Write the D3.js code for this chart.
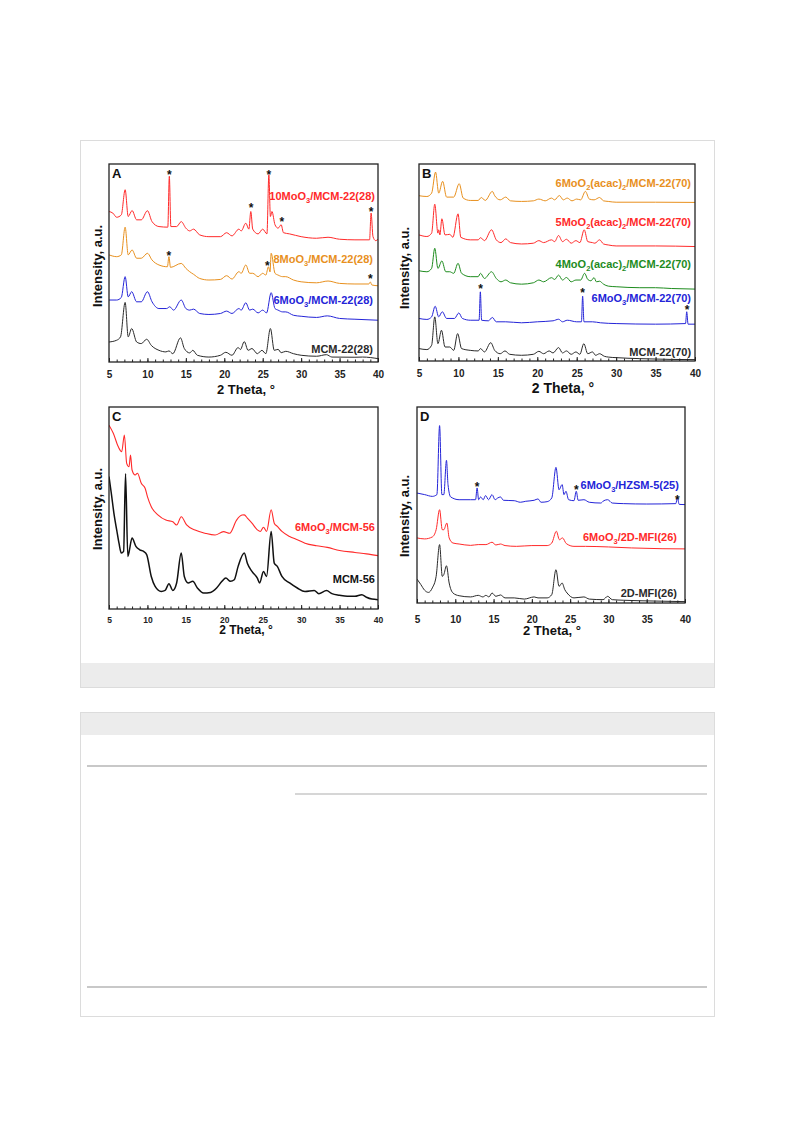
<!DOCTYPE html>
<html lang="en">
<head>
<meta charset="UTF-8">
<title>XRD patterns</title>
<script src="https://d3js.org/d3.v7.min.js"></script>
<style>
  body { margin: 0; background: #fff; }
  svg text { font-family: "Liberation Sans", Arial, sans-serif; font-weight: bold; }
</style>
</head>
<body>
<svg id="page" width="793" height="1123"></svg>
<script>
// x axis
const xTicks = [5, 10, 15, 20, 25, 30, 35, 40]
const minorTicks = d3.range(5, 41, 1)

// ---- panel A : MCM-22(28) series, [2theta, intensity a.u.]
const mcm22_28 = [[5,10.1],[6,11],[6.5,12.7],[7.1,30.1],[7.5,12.7],[7.95,16.9],[8.6,10.1],[9.2,9.3],[9.9,11.5],[10.5,8.4],[11.5,5.9],[12.4,5.1],[12.8,5.6],[13.3,4.2],[14.3,12.2],[14.8,6.8],[15.5,4.6],[15.9,5.9],[16.5,3.4],[18,2.5],[19.5,3.4],[20.2,4.9],[21,3.4],[21.8,7.3],[22.1,6.3],[22.6,10.3],[23.1,5.9],[23.6,6.8],[24.3,4.2],[24.9,5.9],[25.4,4.2],[26.0,16.9],[26.5,5.9],[27.0,6.4],[27.4,4.7],[28,5.4],[29,4.2],[30,3.4],[32,2.9],[33.3,3.7],[34,2.5],[37,2.4],[38,2.5],[40,1.7]]
const mo6_mcm22_28 = [[5,31.3],[6,31.3],[6.6,32.6],[7.1,43.1],[7.5,32.9],[7.95,35.5],[8.6,30.4],[9.2,30.4],[10.0,35.5],[10.6,30.4],[11.5,27],[12.5,27],[12.9,27.9],[13.4,26.2],[14.4,31.3],[15,27],[15.5,26.2],[16,26.7],[16.8,24.5],[18,24],[19.5,24.5],[20.3,25.7],[21,24.5],[21.9,27],[22.2,26.2],[22.8,29.9],[23.3,26.2],[23.7,26.7],[24.4,24.8],[25.0,26.2],[25.5,24.8],[26.1,35],[26.6,27],[27.0,26.2],[27.6,25.3],[28.0,25.3],[29,23.6],[30,23.1],[32,22.5],[33.4,23.3],[35,22],[37,21.6],[40,21.1]]
const mo8_mcm22_28 = [[5,54.1],[6,53.2],[6.6,54.1],[7.1,68.1],[7.5,54.1],[8.0,56.6],[8.6,52.4],[9.2,52.4],[10.0,54.9],[10.6,51.5],[11.5,49],[12.6,48.1],[12.8,53.2],[13.0,47.8],[14.4,49.8],[15,47.3],[15.5,45.6],[16.0,44.3],[16.8,42.2],[18,41.4],[19.5,41.7],[20.3,43.6],[21,41.9],[21.9,45.6],[22.2,44.8],[22.8,49],[23.3,44.8],[23.7,44.8],[24.4,43.1],[25.0,44.8],[25.4,43.9],[25.75,48.1],[25.95,45.5],[26.1,54.9],[26.6,44.8],[27,43.9],[27.6,43.1],[28,43.1],[29,41.4],[30,40.5],[32,40],[33.5,40.9],[35,39.7],[37,39.4],[38.8,39.4],[39.0,40.4],[39.2,38.9],[40,38.5]]
const mo10_mcm22_28 = [[5,76],[5.5,75.2],[6,73.1],[6.6,74.3],[7.1,87],[7.5,73.5],[8.0,76.5],[8.6,71.8],[9.2,71.8],[10.0,76.4],[10.6,70.9],[11.5,68.4],[12.65,68.1],[12.85,93.8],[13.05,68.4],[13.8,68.4],[14.4,70.9],[15,67.6],[15.5,66.2],[16,67.1],[16.8,64.2],[18,63.3],[19.5,63.3],[20.3,65.3],[21,63.7],[21.9,67.1],[22.2,66.2],[22.8,70.1],[23.2,67.1],[23.45,76],[23.7,67.1],[24.4,64.7],[25,67.1],[25.55,64.7],[25.8,94.6],[26.0,73.5],[26.2,76],[26.6,69.3],[27,67.6],[27.4,69.3],[27.7,65.3],[28.5,64.7],[30,63.3],[32,62.5],[33.5,63],[35,62],[37,61.7],[38.9,61.7],[39.1,75.2],[39.35,63.3],[39.7,61.3],[40,62]]
const starsA = [[12.85,96],[25.8,96],[23.5,79],[27.5,71.8],[39.1,77.3],[12.8,54.6],[25.6,49.8],[39.0,43]]

// ---- panel B : MCM-22(70) series
const mcm22_70 = [[5,6.3],[6,5.8],[6.6,8],[7.0,22.4],[7.4,8.8],[7.85,15.6],[8.3,7.1],[8.9,7.1],[9.4,5.4],[9.9,13.9],[10.4,6.3],[11.5,5.4],[12.5,5.1],[12.8,6.3],[13.3,4.6],[14.1,9.3],[14.6,5.4],[15.3,3.7],[15.9,5.1],[16.5,3.4],[18,2.9],[19.5,3.4],[20.2,4.9],[20.8,3.7],[21.5,5.1],[22.0,4.1],[22.7,6.8],[23.2,4.1],[23.7,5.1],[24.3,3.4],[24.9,4.6],[25.4,3.4],[25.9,8.8],[26.4,3.7],[27.0,4.6],[27.4,2.9],[27.9,3.7],[28.5,2.4],[29,2],[30,1.7],[33,1.2],[37,0.8],[40,0.7]]
const mo6_mcm22_70 = [[5,21.6],[6,21.1],[6.6,22.4],[7.05,27.8],[7.5,22.4],[7.95,25],[8.5,21.6],[9.5,21.6],[10.05,24.4],[10.5,21.6],[11.5,20.7],[12.62,20.7],[12.78,35.1],[12.94,20.7],[13.8,20.4],[14.3,22.1],[14.8,19.9],[16,19.9],[18,19.4],[20,19.9],[22,20.4],[22.7,21.2],[23.2,19.9],[23.8,20.7],[25.0,19.9],[25.6,19.9],[25.75,32.9],[25.92,19.9],[27,19.9],[28,19.4],[30,19],[35,18.7],[38.8,19],[38.95,25],[39.12,18.7],[40,18.7]]
const acac4_mcm22_70 = [[5,45.8],[6,45.3],[6.6,47],[7.0,57.2],[7.4,47],[7.9,50.8],[8.4,45.3],[8.9,45.3],[9.4,44.5],[9.95,49.6],[10.4,44.5],[11.5,42.8],[12.5,42.8],[12.8,44.5],[13.3,41.9],[14.2,45.3],[14.8,41.9],[15.4,40.2],[16.0,41.1],[16.6,39.7],[18,39],[19.5,39.7],[20.2,41.1],[20.8,40.2],[21.8,42.3],[22.2,41.4],[22.7,43.6],[23.2,41.1],[23.7,42.4],[24.3,40.2],[24.9,41.1],[25.5,41.1],[26.0,44.5],[26.4,41.4],[26.8,40.7],[27.2,42.3],[27.5,40.2],[27.9,40.5],[28.4,39],[29,38],[30,37.7],[33,37.2],[35,37.2],[37,36.8],[40,36.5]]
const acac5_mcm22_70 = [[5,64],[6,63.2],[6.6,64.9],[7.0,79.6],[7.4,64.9],[7.5,66.6],[7.65,64],[7.9,72.2],[8.3,64],[8.9,64.3],[9.3,62.8],[9.95,74.7],[10.3,62.8],[11.5,61.5],[12.5,61.5],[12.8,62.6],[13.3,61.1],[14.2,66.6],[14.8,61.5],[15.4,60.1],[16.0,62],[16.6,60.1],[18,59.4],[19.5,59.8],[20.2,61.1],[20.8,60.1],[21.8,61.5],[22.2,60.6],[22.7,63.7],[23.2,60.6],[23.7,61.8],[24.3,59.8],[24.9,61.1],[25.4,60.1],[25.95,66.6],[26.4,60.6],[27.0,60.1],[27.3,59.8],[27.9,61.5],[28.4,59.4],[29,58.9],[30,58.4],[35,58.4],[40,58.1]]
const acac6_mcm22_70 = [[5,83.9],[6,83.5],[6.6,85.2],[7.1,95.9],[7.5,85.2],[8.0,91.2],[8.5,83.2],[9.4,83.2],[10.1,90],[10.6,82.7],[11.5,81.5],[12.5,81.5],[12.9,83],[13.4,81.5],[14.3,86.1],[14.6,83.9],[15.3,81.8],[16.0,83.2],[16.6,81.3],[18,81],[19.5,81.3],[20.2,82.2],[21,81.3],[21.8,82.7],[22.2,81.8],[22.8,84],[23.3,81.8],[23.8,82.7],[24.4,81.3],[25.0,82.2],[25.5,81.8],[26.1,86.1],[26.6,82.2],[27.2,81.8],[27.9,83],[28.4,81.3],[29,81],[30,80.6],[35,80.6],[40,80.5]]
const starsB = [[12.82,37.7],[25.76,35.7],[39.0,27]]

// ---- panel C : MCM-56 series
const mcm56 = [[5,65.6],[5.3,57.3],[5.7,45.8],[6.0,39.2],[6.3,32.6],[6.6,27.7],[6.9,28.5],[7.15,66.9],[7.45,26],[7.6,28],[8.0,35.1],[8.5,31],[9.0,29.3],[9.5,28.5],[9.9,26.9],[10.5,16.1],[11,11.2],[11.8,8.7],[12.3,9.2],[12.8,12.5],[13.3,9.2],[13.8,12.9],[14.4,27.7],[14.8,16.1],[15.3,12.9],[15.9,13.7],[16.5,10.4],[17.3,7.9],[18.2,8.2],[19,10.4],[19.7,13.7],[20.2,15.3],[20.8,13.7],[21.3,14.5],[21.8,21.1],[22.6,27.7],[23.0,22.7],[23.6,18.6],[24.3,15.3],[24.6,12.9],[25.1,18.6],[25.5,16.1],[26.1,38.4],[26.5,22.7],[26.9,21.1],[27.5,16.1],[28.5,12.9],[29.5,10.4],[30.5,8.7],[31.7,9.2],[32.3,7.6],[33.3,9.1],[34,7.6],[35,6.8],[36,6.3],[37,6.3],[37.9,7.1],[38.5,5.8],[39.2,4.9],[40,4.6]]
const mo6_mcm56 = [[5,91],[5.56,87],[6.2,80.4],[6.65,77.9],[7.0,86.1],[7.3,72.1],[7.6,70.4],[7.8,76.2],[8.0,68.8],[8.4,66.3],[8.7,67.2],[9.2,62.2],[9.7,59.8],[10.0,55.6],[10.5,50.6],[11.4,46.5],[12.4,44],[13.3,43.2],[13.8,41.6],[14.4,45.7],[15.1,41.6],[16.2,39.1],[17.5,37.5],[18.8,36.6],[19.9,38.3],[20.7,37.5],[21.6,44],[22.3,46.5],[22.6,46.6],[23.0,45],[23.6,42.5],[24.3,39.2],[24.7,38.4],[25.1,40.5],[25.5,38.4],[26.1,49.1],[26.5,42.5],[26.9,40.9],[27.5,38.4],[28.5,35.9],[29.5,34.3],[30.5,32.6],[32,31.3],[33.4,30.5],[35,29],[37,28],[38.5,27.3],[40,26.4]]

// ---- panel D : MFI series
const mfi2d_26 = [[5,12.2],[5.5,9.4],[6,6.5],[6.5,5.4],[7,7.7],[7.5,13.6],[7.95,29.8],[8.3,13.6],[8.5,14.5],[8.85,19],[9.2,10.2],[9.7,5.1],[10.5,3.7],[12,3.1],[13.0,3.9],[13.6,3.1],[14.0,3.9],[14.4,3.1],[14.8,5.1],[15.3,3.4],[15.9,4.1],[16.5,2.6],[17.7,2.6],[19,2],[20.3,3.1],[20.8,2.6],[22,2.6],[22.6,4.3],[23.15,17],[23.55,8.5],[23.95,10.2],[24.3,6.8],[24.6,5.1],[25.5,2.6],[26.8,3.1],[27.5,2],[29.3,1.7],[29.9,3.4],[30.5,1.7],[32,1.4],[36,1],[40,0.7]]
const mo6_mfi2d_26 = [[5,33.2],[6,32.7],[7,33.7],[7.5,37.4],[7.95,47.6],[8.3,37.4],[8.5,37.4],[8.9,40.8],[9.2,33.2],[9.7,30.6],[10.5,30.1],[12,29.4],[13,29.8],[14,29.8],[14.8,31],[15.3,29.6],[15.9,30.1],[16.5,29.3],[18,28.9],[20,29.3],[22,29.3],[22.6,30.6],[23.2,36.6],[23.6,32.3],[24.0,33.2],[24.5,30.3],[25.5,28.9],[27,28.9],[30,28.6],[33,28.1],[37,27.7],[40,27.6]]
const mo6_hzsm5_25 = [[5,56.1],[6,55.3],[7,54.4],[7.6,55.3],[7.95,90.5],[8.25,55.3],[8.5,55.3],[8.85,72.8],[9.05,60.4],[9.4,54.1],[10.5,52.7],[12,52.7],[12.65,52.7],[12.85,58.7],[13.05,52.7],[13.3,54.1],[13.65,52.7],[13.95,54.8],[14.35,52.7],[14.8,55.3],[15.2,52.7],[15.55,53.6],[15.9,54.1],[16.3,52.4],[17.7,52.2],[18.5,51.4],[19.2,51.9],[20.3,52.4],[20.8,53.1],[21.2,51.4],[22.0,51.7],[22.6,53.6],[23.15,69.2],[23.55,57.8],[23.95,60.4],[24.2,55.3],[24.45,57],[24.8,52.7],[25.5,52.2],[25.8,57],[26.05,52.4],[26.8,52.7],[27.5,51.4],[29.0,51],[29.4,52.2],[29.9,52.7],[30.5,51],[32,50.7],[35,50.5],[38.8,50.7],[39.0,53.6],[39.25,50.3],[40,50.2]]
const starsD = [[12.85,60.4],[25.8,59.2],[39.0,54.1]]

// series names ("_x" = subscript)
const namesA = ['10MoO_3/MCM-22(28)', '8MoO_3/MCM-22(28)', '6MoO_3/MCM-22(28)', 'MCM-22(28)']
const namesB = ['6MoO_2(acac)_2/MCM-22(70)', '5MoO_2(acac)_2/MCM-22(70)', '4MoO_2(acac)_2/MCM-22(70)', '6MoO_3/MCM-22(70)', 'MCM-22(70)']
const namesC = ['6MoO_3/MCM-56', 'MCM-56']
const namesD = ['6MoO_3/HZSM-5(25)', '6MoO_3/2D-MFI(26)', '2D-MFI(26)']

const RED = '#ff2a2a', ORANGE = '#e8901e', BLUE = '#2424d8', GREEN = '#1e8c1e', BLACK = '#2a2a2a'

const panels = [
  { letter: 'A', box: [109, 164, 378, 362], tickFs: 10, tickPad: 9, titleFs: 13, title: [246, 394], yTitle: [102, 266],
    series: [mo10_mcm22_28, mo8_mcm22_28, mo6_mcm22_28, mcm22_28], names: namesA, colors: [RED, ORANGE, BLUE, BLACK],
    labels: [[39.6, 81.8], [39.35, 50], [39.35, 29.3], [39.35, 4.5]], stars: starsA },
  { letter: 'B', box: [419, 164, 695, 361], tickFs: 10, tickPad: 9, titleFs: 14, title: [563, 393], yTitle: [409, 268],
    series: [acac6_mcm22_70, acac5_mcm22_70, acac4_mcm22_70, mo6_mcm22_70, mcm22_70], names: namesB, colors: [ORANGE, RED, GREEN, BLUE, BLACK],
    labels: [[39.5, 88.3], [39.5, 68.5], [39.5, 47.2], [39.5, 29.9], [39.5, 2.5]], stars: starsB },
  { letter: 'C', box: [109, 407, 378, 609], tickFs: 8.5, tickPad: 7.5, titleFs: 12, title: [246, 634], yTitle: [102, 509],
    series: [mo6_mcm56, mcm56], names: namesC, colors: [RED, '#111'], widths: [1.1, 1.5],
    labels: [[39.6, 38.6], [39.6, 12.9]], stars: [] },
  { letter: 'D', box: [417, 407, 685, 603], tickFs: 10, tickPad: 12.5, titleFs: 13, title: [552, 635], yTitle: [409, 516],
    series: [mo6_hzsm5_25, mo6_mfi2d_26, mfi2d_26], names: namesD, colors: [BLUE, RED, BLACK],
    labels: [[39.2, 58.2], [38.95, 31.6], [38.95, 3.1]], stars: starsD }
]

const svg = d3.select('#page')
svg.append('rect').attr('width', 793).attr('height', 1123).attr('fill', '#fff')

// page frame around the figure and the table below it
svg.append('rect').attr('x', 80.5).attr('y', 140.5).attr('width', 634).attr('height', 547)
  .attr('fill', '#fff').attr('stroke', '#dcdcdc')
svg.append('rect').attr('x', 81).attr('y', 663).attr('width', 633).attr('height', 24).attr('fill', '#ececec')
svg.append('rect').attr('x', 80.5).attr('y', 712.5).attr('width', 634).attr('height', 304)
  .attr('fill', '#fff').attr('stroke', '#dcdcdc')
svg.append('rect').attr('x', 81).attr('y', 713).attr('width', 633).attr('height', 22).attr('fill', '#ececec')
const rules = [[87, 766, 707, 2], [295, 794, 707, 1.5], [87, 987, 707, 2]]
rules.forEach(r => svg.append('line').attr('x1', r[0]).attr('x2', r[2]).attr('y1', r[1]).attr('y2', r[1])
  .attr('stroke', '#c8c8c8').attr('stroke-width', r[3]))

function richText (el, str, fs) {
  let shift = 0
  str.split(/(_\w)/).filter(s => s).forEach(p => {
    const sub = p[0] === '_'
    const d = sub ? fs * 0.3 : 0
    el.append('tspan')
      .attr('dy', d - shift)
      .attr('font-size', sub ? fs * 0.68 : fs)
      .text(sub ? p.slice(1) : p)
    shift = d
  })
}

panels.forEach((p, pi) => {
  const [l, t, r, b] = p.box
  const x = d3.scaleLinear().domain([5, 40]).range([l, r])
  const y = d3.scaleLinear().domain([0, 100]).range([b, t])
  const g = svg.append('g')

  const clipId = 'clip' + pi
  g.append('clipPath').attr('id', clipId)
    .append('rect').attr('x', l).attr('y', t).attr('width', r - l).attr('height', b - t)

  const line = d3.line().x(d => x(d[0])).y(d => y(d[1])).curve(d3.curveMonotoneX)
  const curves = g.append('g').attr('clip-path', `url(#${clipId})`)
  curves.selectAll('path').data(p.series).enter().append('path')
    .attr('d', line)
    .attr('fill', 'none')
    .attr('stroke', (d, i) => p.colors[i])
    .attr('stroke-width', (d, i) => p.widths ? p.widths[i] : 1)
    .attr('stroke-linejoin', 'round')

  // minor and major ticks, pointing inward
  const gMinor = g.append('g').attr('transform', `translate(0,${b})`).attr('color', '#222')
    .call(d3.axisBottom(x).tickValues(minorTicks).tickSize(-2.5).tickFormat(''))
  gMinor.select('.domain').remove()
  const gMajor = g.append('g').attr('transform', `translate(0,${b})`).attr('color', '#222')
    .call(d3.axisBottom(x).tickValues(xTicks).tickSize(-4).tickPadding(p.tickPad))
  gMajor.select('.domain').remove()
  gMajor.selectAll('text').attr('font-size', p.tickFs).attr('fill', '#222')

  g.append('rect').attr('x', l).attr('y', t).attr('width', r - l).attr('height', b - t)
    .attr('fill', 'none').attr('stroke', '#222').attr('stroke-width', 1.3)

  g.append('text').attr('x', l + 3).attr('y', t + 14).attr('font-size', 13).attr('fill', '#111').text(p.letter)

  g.append('text').attr('x', p.title[0]).attr('y', p.title[1]).attr('text-anchor', 'middle')
    .attr('font-size', p.titleFs).attr('fill', '#111').text('2 Theta, °')
  g.append('text').attr('transform', `translate(${p.yTitle[0]},${p.yTitle[1]}) rotate(-90)`)
    .attr('text-anchor', 'middle').attr('font-size', 13).attr('fill', '#111').text('Intensity, a.u.')

  // curve labels
  p.names.forEach((n, i) => {
    const tx = g.append('text')
      .attr('x', x(p.labels[i][0])).attr('y', y(p.labels[i][1]))
      .attr('text-anchor', 'end').attr('fill', p.colors[i])
    richText(tx, n, 11)
  })

  // MoO3 reflections
  g.selectAll('.star').data(p.stars).enter().append('text')
    .attr('class', 'star')
    .attr('x', d => x(d[0])).attr('y', d => y(d[1]))
    .attr('dy', '0.55em').attr('text-anchor', 'middle')
    .attr('font-size', 12).attr('fill', '#111').text('*')
})
</script>
</body>
</html>
